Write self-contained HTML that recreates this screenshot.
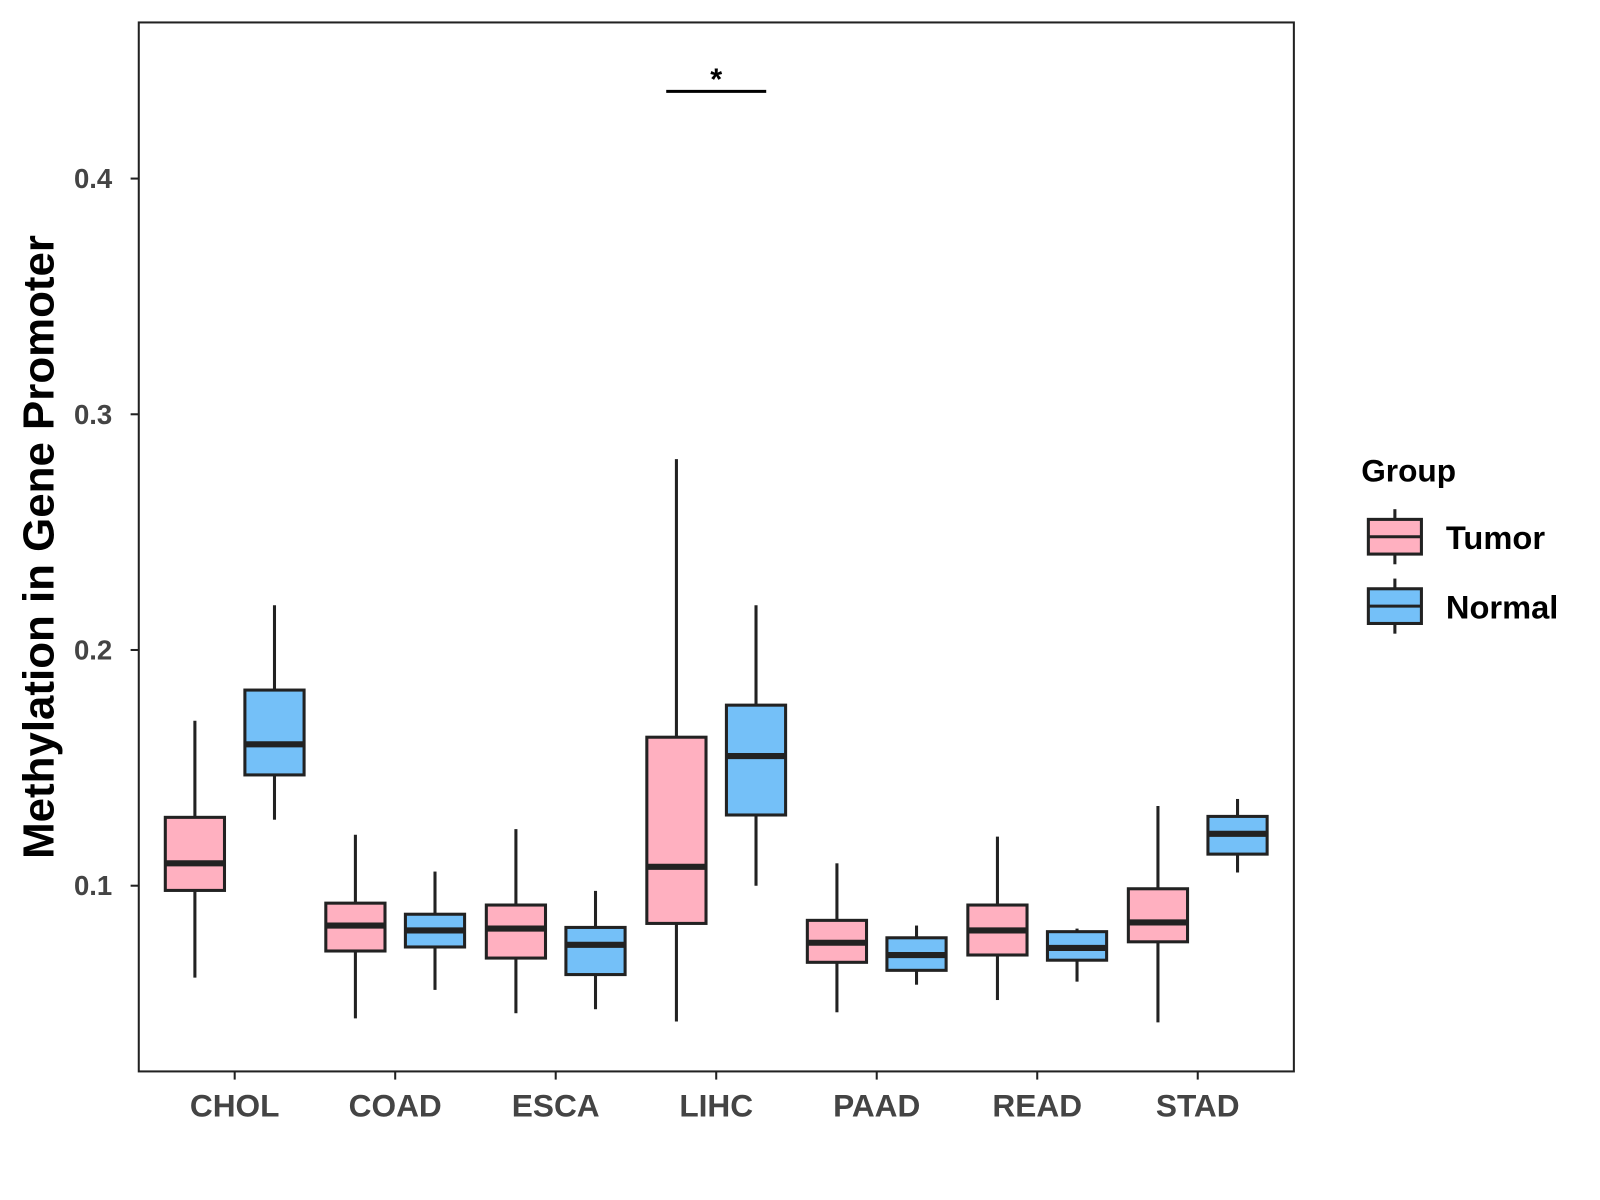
<!DOCTYPE html>
<html><head><meta charset="utf-8"><style>
html,body{margin:0;padding:0;background:#fff;}
svg{display:block;font-family:"Liberation Sans",Arial,sans-serif;}
</style></head><body>
<svg id="chart" width="1600" height="1200" viewBox="0 0 1600 1200">
<rect x="0" y="0" width="1600" height="1200" fill="#fff"/>
<g transform="scale(1.0204)">
<rect x="136" y="22" width="1132" height="1028" fill="none" stroke="#222" stroke-width="2"/>
<text x="38" y="536" transform="rotate(-90 38 536)" text-anchor="middle" dominant-baseline="central" font-size="43" font-weight="bold" fill="#000">Methylation in Gene Promoter</text>
<g id="yaxis"></g>
<g id="xaxis"></g>
<g id="boxes"></g>
<g id="sig"></g>
<g>
<text x="1334" y="472" font-size="31" font-weight="bold" fill="#000">Group</text>
<g>
<line x1="1367" y1="499" x2="1367" y2="553" stroke="#222" stroke-width="3"/>
<rect x="1341" y="509" width="52" height="34" fill="#FFB0C0" stroke="#222" stroke-width="3"/>
<line x1="1341" y1="526" x2="1393" y2="526" stroke="#222" stroke-width="3"/>
<text x="1417" y="538" font-size="32" font-weight="bold" fill="#000">Tumor</text>
</g>
<g>
<line x1="1367" y1="567" x2="1367" y2="621" stroke="#222" stroke-width="3"/>
<rect x="1341" y="577" width="52" height="34" fill="#74C0F8" stroke="#222" stroke-width="3"/>
<line x1="1341" y1="594" x2="1393" y2="594" stroke="#222" stroke-width="3"/>
<text x="1417" y="606" font-size="32" font-weight="bold" fill="#000">Normal</text>
</g>
</g>
</g>
</svg>
<script>
const categories = ["CHOL","COAD","ESCA","LIHC","PAAD","READ","STAD"];
// [low, q1, median, q3, high]
const tumorStats = [
 [0.061,0.098,0.1095,0.129,0.170],
 [0.0437,0.0723,0.0831,0.0926,0.1216],
 [0.0459,0.0693,0.0818,0.0918,0.124],
 [0.0424,0.084,0.108,0.163,0.281],
 [0.0463,0.0675,0.0758,0.0853,0.1095],
 [0.0515,0.0706,0.081,0.0918,0.1208],
 [0.042,0.0762,0.0844,0.0987,0.1338]
];
const normalStats = [
 [0.128,0.147,0.160,0.183,0.219],
 [0.0558,0.074,0.081,0.0879,0.106],
 [0.0476,0.0623,0.0749,0.0823,0.0978],
 [0.100,0.130,0.155,0.1766,0.219],
 [0.058,0.0641,0.0706,0.0779,0.0831],
 [0.0593,0.0684,0.0736,0.0805,0.0818],
 [0.1056,0.1134,0.122,0.1294,0.1368]
];
const yTicks = [0.1,0.2,0.3,0.4];
const yTickLabels = ["0.1","0.2","0.3","0.4"];
const sigCategory = "LIHC";
const sigValue = 0.437;
const sigLabel = "*";

const NS="http://www.w3.org/2000/svg";
function yScale(v){return 868-(v-0.1)*2310;}
function xScale(i){return 230+i*157.3;}
function mk(tag,attrs,parent){const e=document.createElementNS(NS,tag);for(const k in attrs)e.setAttribute(k,attrs[k]);parent.appendChild(e);return e;}

const ya=document.getElementById('yaxis');
yTicks.forEach((t,i)=>{
 const y=yScale(t);
 const tk=mk('line',{x1:128,x2:136,y1:y,y2:y,stroke:'#222','stroke-width':2},ya);
 
 
 const tx=mk('text',{x:110,y:y,'text-anchor':'end','dominant-baseline':'central','font-size':27,'font-weight':'bold',fill:'#444'},ya);
 tx.textContent=yTickLabels[i];
 
 
});
const xa=document.getElementById('xaxis');
categories.forEach((c,i)=>{
 const x=xScale(i);
 const tk=mk('line',{x1:x,x2:x,y1:1050,y2:1058,stroke:'#222','stroke-width':2},xa);
 
 
 const tx=mk('text',{x:x,y:1094,'text-anchor':'middle','font-size':31,'font-weight':'bold',fill:'#444'},xa);
 tx.textContent=c;
 
 
});
const bx=document.getElementById('boxes');
function drawBox(s,cx,fill,name){
 const g=mk('g',{},bx);
 
 
 const w=58;
 mk('line',{x1:cx,x2:cx,y1:yScale(s[4]),y2:yScale(s[3]),stroke:'#222','stroke-width':3},g);
 mk('line',{x1:cx,x2:cx,y1:yScale(s[1]),y2:yScale(s[0]),stroke:'#222','stroke-width':3},g);
 mk('rect',{x:cx-w/2,y:yScale(s[3]),width:w,height:yScale(s[1])-yScale(s[3]),fill:fill,stroke:'#222','stroke-width':3},g);
 mk('line',{x1:cx-w/2,x2:cx+w/2,y1:yScale(s[2]),y2:yScale(s[2]),stroke:'#222','stroke-width':6},g);
}
categories.forEach((c,i)=>{
 drawBox(tumorStats[i],xScale(i)-39,'#FFB0C0','box-tumor-'+c.toLowerCase());
 drawBox(normalStats[i],xScale(i)+39,'#74C0F8','box-normal-'+c.toLowerCase());
});
const sg=document.getElementById('sig');
const si=categories.indexOf(sigCategory);
const sy=yScale(sigValue);
mk('line',{x1:xScale(si)-49,x2:xScale(si)+49,y1:sy,y2:sy,stroke:'#000','stroke-width':3},sg);
const st=mk('text',{x:xScale(si),y:sy-2,'text-anchor':'middle','font-size':30,'font-weight':'bold',fill:'#000'},sg);
st.textContent=sigLabel;
</script>
</body></html>
